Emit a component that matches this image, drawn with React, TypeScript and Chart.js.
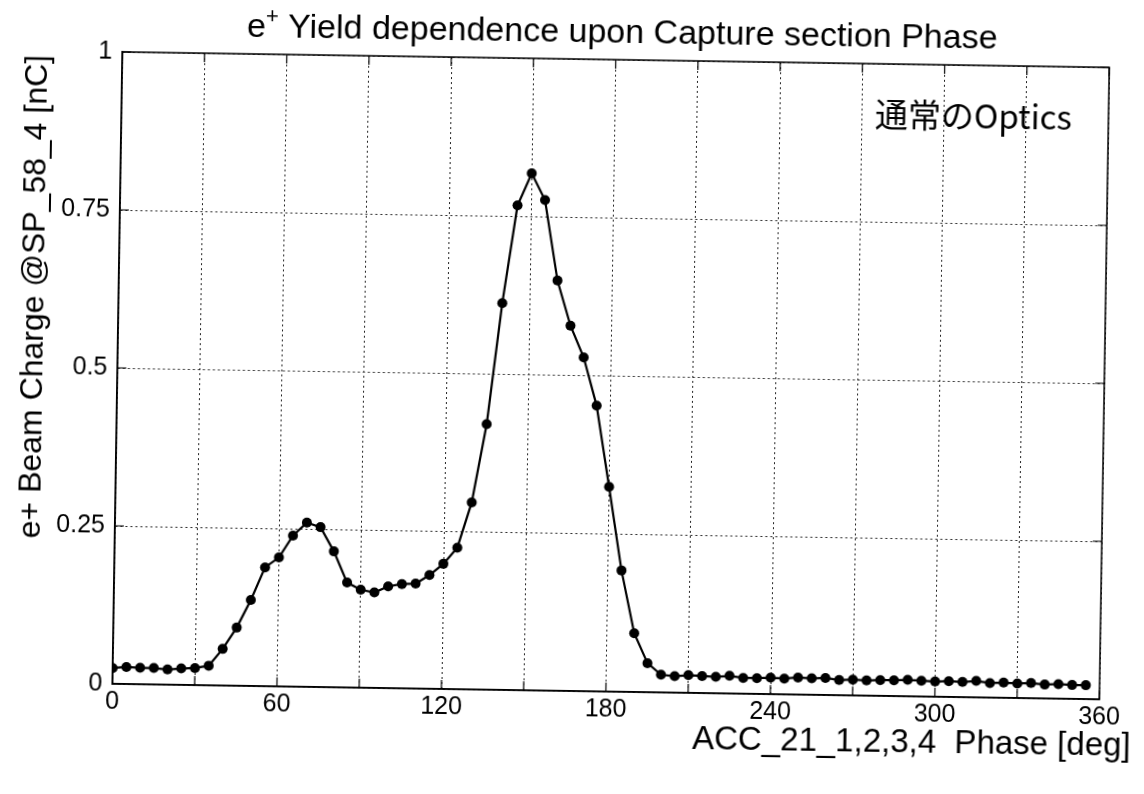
import React, { useEffect, useRef } from 'react';
import { Chart, registerables } from 'chart.js';

Chart.register(...registerables);

// ---- data ----
const phaseDeg = [
  0, 5, 10, 15, 20, 25, 30, 35, 40, 45, 50, 55, 60, 65, 70, 75, 80, 85, 90, 95,
  100, 105, 110, 115, 120, 125, 130, 135, 140, 145, 150, 155, 160, 165, 170, 175,
  180, 185, 190, 195, 200, 205, 210, 215, 220, 225, 230, 235, 240, 245, 250, 255,
  260, 265, 270, 275, 280, 285, 290, 295, 300, 305, 310, 315, 320, 325, 330, 335,
  340, 345, 350, 355,
];

const beamChargeNC = [
  0.025, 0.027, 0.026, 0.026, 0.024, 0.026, 0.027, 0.031, 0.058, 0.092,
  0.136, 0.188, 0.204, 0.239, 0.26, 0.253, 0.215, 0.166, 0.155, 0.151,
  0.161, 0.165, 0.166, 0.18, 0.198, 0.224, 0.296, 0.42, 0.612, 0.767,
  0.818, 0.776, 0.649, 0.578, 0.528, 0.452, 0.324, 0.192, 0.093, 0.046,
  0.028, 0.026, 0.028, 0.027, 0.026, 0.028, 0.025, 0.025, 0.026, 0.025,
  0.027, 0.026, 0.027, 0.024, 0.025, 0.024, 0.025, 0.025, 0.026, 0.025,
  0.024, 0.025, 0.024, 0.026, 0.023, 0.024, 0.023, 0.024, 0.022, 0.023,
  0.022, 0.022,
];

const xLabeledTicks = [0, 60, 120, 180, 240, 300, 360];
const xGridStep = 30;
const yTickValues = [0, 0.25, 0.5, 0.75, 1];
const yTickLabels = ['0', '0.25', '0.5', '0.75', '1'];

const titleMain = 'Yield dependence upon Capture section Phase';
const yAxisTitle = 'e+ Beam Charge @SP_58_4 [nC]';
const xAxisTitle = 'ACC_21_1,2,3,4  Phase [deg]';
const noteText = '通常のOptics';

const FONT = '"Liberation Sans", Arial, Helvetica, sans-serif';

const framePlugin = {
  id: 'frameAndText',
  beforeDatasetsDraw(chart: any) {
    const { ctx, chartArea: a, scales } = chart;
    const x = scales.x;
    const y = scales.y;
    ctx.save();
    ctx.strokeStyle = '#000';
    ctx.lineWidth = 1.5;
    ctx.setLineDash([]);
    ctx.strokeRect(a.left, a.top, a.right - a.left, a.bottom - a.top);
    const L = 9;
    ctx.lineWidth = 1.2;
    ctx.beginPath();
    x.ticks.forEach((t: any) => {
      const px = x.getPixelForValue(t.value);
      ctx.moveTo(px, a.bottom);
      ctx.lineTo(px, a.bottom - L);
      ctx.moveTo(px, a.top);
      ctx.lineTo(px, a.top + L);
    });
    y.ticks.forEach((t: any) => {
      const py = y.getPixelForValue(t.value);
      ctx.moveTo(a.left, py);
      ctx.lineTo(a.left + L, py);
      ctx.moveTo(a.right, py);
      ctx.lineTo(a.right - L, py);
    });
    ctx.stroke();
    ctx.restore();
  },
  afterDraw(chart: any) {
    const { ctx, chartArea: a } = chart;
    ctx.save();
    ctx.fillStyle = '#000';
    ctx.textBaseline = 'alphabetic';

    // title with superscript +
    const cx = (a.left + a.right) / 2 + 6;
    const base = a.top - 17;
    ctx.font = `34px ${FONT}`;
    const wE = ctx.measureText('e').width;
    const wRest = ctx.measureText(' ' + titleMain).width;
    ctx.font = `22px ${FONT}`;
    const wPlus = ctx.measureText('+').width;
    const total = wE + wPlus + wRest;
    let sx = cx - total / 2;
    ctx.font = `34px ${FONT}`;
    ctx.textAlign = 'left';
    ctx.fillText('e', sx, base);
    sx += wE;
    ctx.font = `22px ${FONT}`;
    ctx.fillText('+', sx, base - 14);
    sx += wPlus;
    ctx.font = `34px ${FONT}`;
    ctx.fillText(' ' + titleMain, sx, base);

    // y axis title
    ctx.save();
    ctx.font = `32px ${FONT}`;
    ctx.translate(33, (a.top + a.bottom) / 2 - 70);
    ctx.rotate(-Math.PI / 2);
    ctx.textAlign = 'center';
    ctx.textBaseline = 'middle';
    ctx.fillText(yAxisTitle, 0, 0);
    ctx.restore();

    // x axis title
    ctx.font = `33px ${FONT}`;
    ctx.textAlign = 'right';
    ctx.textBaseline = 'alphabetic';
    ctx.fillText(xAxisTitle, a.right + 32, a.bottom + 56);

    // handwritten note
    ctx.font = `33px "Noto Sans CJK JP", sans-serif`;
    ctx.textAlign = 'center';
    ctx.textBaseline = 'middle';
    ctx.fillText(noteText, a.right - 135, a.top + 50);
    ctx.restore();
  },
};

export default function App() {
  const canvasRef = useRef<HTMLCanvasElement | null>(null);

  useEffect(() => {
    const canvas = canvasRef.current;
    if (!canvas) return;
    const chart = new Chart(canvas, {
      type: 'line',
      data: {
        datasets: [
          {
            data: phaseDeg.map((d, i) => ({ x: d, y: beamChargeNC[i] })),
            borderColor: '#000',
            backgroundColor: '#000',
            borderWidth: 2.2,
            pointRadius: 5,
            pointBackgroundColor: '#000',
            pointBorderColor: '#000',
            pointBorderWidth: 0,
            tension: 0,
            fill: false,
          },
        ],
      },
      options: {
        responsive: false,
        animation: false,
        layout: { padding: { left: 0, top: 59, right: 40, bottom: 0 } },
        plugins: {
          legend: { display: false },
          title: { display: false },
          tooltip: { enabled: false },
        },
        scales: {
          x: {
            type: 'linear',
            min: 0,
            max: 360,
            afterFit: (s: any) => {
              s.height = 103;
            },
            afterBuildTicks: (s: any) => {
              const out: any[] = [];
              for (let v = 0; v <= 360; v += xGridStep) out.push({ value: v });
              s.ticks = out;
            },
            ticks: {
              color: '#000',
              font: { family: FONT, size: 25 },
              padding: 3,
              maxRotation: 0,
              autoSkip: false,
              callback: (v: any) => (xLabeledTicks.includes(Number(v)) ? String(v) : ''),
            },
            grid: { color: '#222', lineWidth: 1, drawTicks: false },
            border: { display: true, color: '#000', width: 1.5, dash: [2, 3] },
          },
          y: {
            type: 'linear',
            min: 0,
            max: 1,
            afterFit: (s: any) => {
              s.width = 117;
            },
            afterBuildTicks: (s: any) => {
              s.ticks = yTickValues.map((v) => ({ value: v }));
            },
            ticks: {
              color: '#000',
              font: { family: FONT, size: 25 },
              padding: 10,
              autoSkip: false,
              callback: (v: any) => {
                const i = yTickValues.indexOf(Number(v));
                return i >= 0 ? yTickLabels[i] : '';
              },
            },
            grid: { color: '#222', lineWidth: 1, drawTicks: false },
            border: { display: true, color: '#000', width: 1.5, dash: [2, 3] },
          },
        },
      },
      plugins: [framePlugin],
    });
    return () => chart.destroy();
  }, []);

  return (
    <div
      style={{
        position: 'fixed',
        left: 0,
        top: 0,
        width: 1144,
        height: 794,
        background: '#fff',
        transform: 'rotate(0.9deg)',
        transformOrigin: '572px 397px',
      }}
    >
      <canvas ref={canvasRef} width={1144} height={794} style={{ width: 1144, height: 794, display: 'block' }} />
    </div>
  );
}
